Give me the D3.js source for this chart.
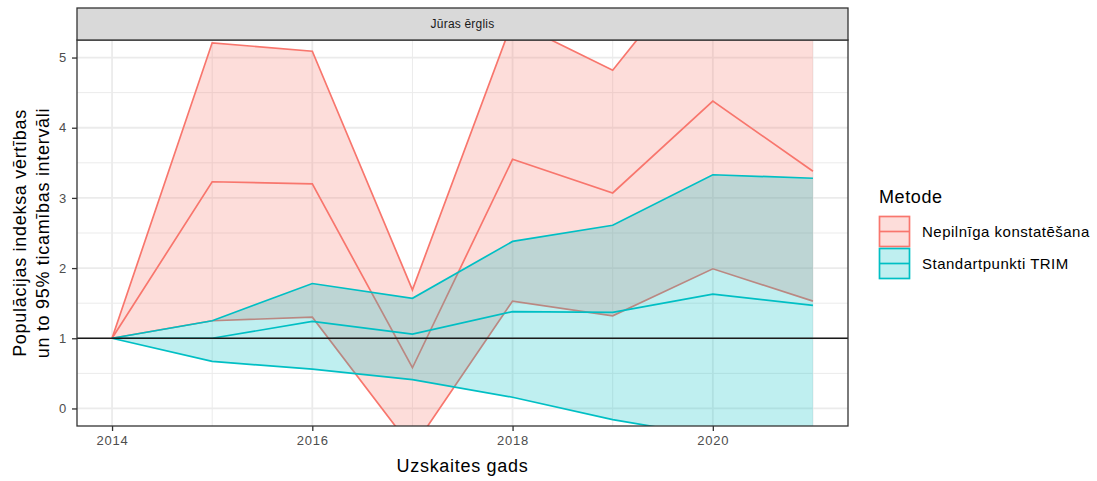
<!DOCTYPE html>
<html>
<head>
<meta charset="utf-8">
<script src="https://cdn.jsdelivr.net/npm/d3@7"></script>
<style>
  body { margin: 0; background: #fff; }
  svg text { font-family: "Liberation Sans", Arial, sans-serif; }
</style>
</head>
<body>
<div class="viz"></div>
<script>
// values
const years = [2014, 2015, 2016, 2017, 2018, 2019, 2020, 2021];

const nepMean  = [1, 3.23, 3.20, 0.58, 3.55, 3.07, 4.38, 3.38];
const nepLower = [1, 1.25, 1.30, -0.57, 1.53, 1.32, 1.99, 1.53];
const nepUpper = [1, 5.21, 5.09, 1.69, 5.52, 4.82, 6.60, 5.26];

const trimMean  = [1, 1.00, 1.24, 1.06, 1.38, 1.37, 1.63, 1.47];
const trimLower = [1, 0.67, 0.56, 0.41, 0.16, -0.16, -0.40, -0.55];
const trimUpper = [1, 1.25, 1.78, 1.57, 2.38, 2.61, 3.33, 3.28];

const methods = ["Nepilnīga konstatēšana", "Standartpunkti TRIM"];
const xTicks = [2014, 2016, 2018, 2020];
const xMinor = [2015, 2017, 2019, 2021];
const yTicks = [0, 1, 2, 3, 4, 5];
const yMinor = [0.5, 1.5, 2.5, 3.5, 4.5];
const refLine = 1;

const colScale = d3.scaleOrdinal()
    .domain(methods)
    .range(["#F8766D", "#00BFC4"]);

const series = [
    { method: methods[0], mean: nepMean, lower: nepLower, upper: nepUpper },
    { method: methods[1], mean: trimMean, lower: trimLower, upper: trimUpper }
];

const W = 1097, H = 481;
const panel = { left: 77, right: 848, top: 40, bottom: 426 };

const svg = d3.select('.viz')
    .append('svg')
    .attr('width', W)
    .attr('height', H);

const x = d3.scaleLinear()
    .domain([2013.65, 2021.35])
    .range([panel.left, panel.right]);

const y = d3.scaleLinear()
    .domain([-0.25, 5.25])
    .range([panel.bottom, panel.top]);

/* GRID */
const grid = svg.append("g");
grid.selectAll(null).data(yMinor).enter().append("line")
    .attr("x1", panel.left).attr("x2", panel.right)
    .attr("y1", d => y(d)).attr("y2", d => y(d))
    .attr("stroke", "#EBEBEB").attr("stroke-width", 1);
grid.selectAll(null).data(xMinor).enter().append("line")
    .attr("y1", panel.top).attr("y2", panel.bottom)
    .attr("x1", d => x(d)).attr("x2", d => x(d))
    .attr("stroke", "#EBEBEB").attr("stroke-width", 1);
grid.selectAll(null).data(yTicks).enter().append("line")
    .attr("x1", panel.left).attr("x2", panel.right)
    .attr("y1", d => y(d)).attr("y2", d => y(d))
    .attr("stroke", "#EBEBEB").attr("stroke-width", 1.8);
grid.selectAll(null).data(xTicks).enter().append("line")
    .attr("y1", panel.top).attr("y2", panel.bottom)
    .attr("x1", d => x(d)).attr("x2", d => x(d))
    .attr("stroke", "#EBEBEB").attr("stroke-width", 1.8);

/* CLIP */
svg.append("clipPath").attr("id", "clip")
    .append("rect")
    .attr("x", panel.left).attr("y", panel.top)
    .attr("width", panel.right - panel.left)
    .attr("height", panel.bottom - panel.top);

const plot = svg.append("g").attr("clip-path", "url(#clip)");

const area = d3.area()
    .x((d, i) => x(years[i]))
    .y0(d => y(d[0]))
    .y1(d => y(d[1]));

const line = d3.line()
    .x((d, i) => x(years[i]))
    .y(d => y(d));

series.forEach(function(s) {
    const band = s.lower.map((v, i) => [v, s.upper[i]]);
    plot.append("path")
        .attr("d", area(band))
        .attr("fill", colScale(s.method))
        .attr("fill-opacity", 0.25);
    [s.upper, s.lower, s.mean].forEach(function(arr) {
        plot.append("path")
            .attr("d", line(arr))
            .attr("fill", "none")
            .attr("stroke", colScale(s.method))
            .attr("stroke-width", 1.7);
    });
});

// reference line
plot.append("line")
    .attr("x1", panel.left).attr("x2", panel.right)
    .attr("y1", y(refLine)).attr("y2", y(refLine))
    .attr("stroke", "#1A1A1A").attr("stroke-width", 1.7);

/* PANEL BORDER + STRIP */
svg.append("rect")
    .attr("x", panel.left).attr("y", panel.top)
    .attr("width", panel.right - panel.left)
    .attr("height", panel.bottom - panel.top)
    .attr("fill", "none").attr("stroke", "#333333").attr("stroke-width", 1.3);

svg.append("rect")
    .attr("x", panel.left).attr("y", 8)
    .attr("width", panel.right - panel.left)
    .attr("height", panel.top - 8)
    .attr("fill", "#D9D9D9").attr("stroke", "#333333").attr("stroke-width", 1.3);

svg.append("text")
    .attr("x", (panel.left + panel.right) / 2)
    .attr("y", 24)
    .attr("dy", "0.35em")
    .attr("text-anchor", "middle")
    .style("font-size", "12px")
    .style("letter-spacing", "0.2px")
    .style("fill", "#1A1A1A")
    .text("Jūras ērglis");

/* AXES */
const yAxis = svg.append("g")
    .attr("transform", `translate(${panel.left},0)`)
    .call(d3.axisLeft(y).tickValues(yTicks).tickFormat(d3.format("d")).tickSize(5).tickPadding(5));
const xAxis = svg.append("g")
    .attr("transform", `translate(0,${panel.bottom})`)
    .call(d3.axisBottom(x).tickValues(xTicks).tickFormat(d3.format("d")).tickSize(5).tickPadding(5));

[yAxis, xAxis].forEach(function(a) {
    a.select(".domain").remove();
    a.selectAll(".tick line").attr("stroke", "#333333").attr("stroke-width", 1.3);
    a.selectAll(".tick text")
        .style("font-size", "13px")
        .style("letter-spacing", "0.8px")
        .style("font-family", '"Liberation Sans", Arial, sans-serif')
        .attr("fill", "#4D4D4D");
});

svg.append("text")
    .attr("x", (panel.left + panel.right) / 2)
    .attr("y", 472)
    .attr("text-anchor", "middle")
    .style("font-size", "18px")
    .style("letter-spacing", "0.7px")
    .style("fill", "#000")
    .text("Uzskaites gads");

const yTitle = svg.append("text")
    .attr("transform", `translate(26,${(panel.top + panel.bottom) / 2}) rotate(-90)`)
    .attr("text-anchor", "middle")
    .style("font-size", "18px")
    .style("letter-spacing", "0.7px")
    .style("fill", "#000");
yTitle.append("tspan").attr("x", 0).attr("y", 0).text("Populācijas indeksa vērtības");
yTitle.append("tspan").attr("x", 0).attr("y", 23).text("un to 95% ticamības intervāli");

/* LEGEND */
const leg = svg.append("g");
leg.append("text")
    .attr("x", 879).attr("y", 203)
    .style("font-size", "18px")
    .style("letter-spacing", "0.6px")
    .style("fill", "#000")
    .text("Metode");

const keySize = 30;
const legItems = leg.selectAll(null)
    .data(methods)
    .enter()
    .append("g")
    .attr("transform", (d, i) => `translate(879.5,${216.5 + i * 32})`);

legItems.append("rect")
    .attr("width", keySize).attr("height", keySize)
    .attr("fill", d => colScale(d)).attr("fill-opacity", 0.25)
    .attr("stroke", d => colScale(d)).attr("stroke-width", 1.7);
legItems.append("line")
    .attr("x1", 0).attr("x2", keySize)
    .attr("y1", keySize / 2).attr("y2", keySize / 2)
    .attr("stroke", d => colScale(d)).attr("stroke-width", 1.7);
legItems.append("text")
    .attr("x", 42.5)
    .attr("y", keySize / 2)
    .attr("dy", "0.35em")
    .style("font-size", "15px")
    .style("letter-spacing", "0.5px")
    .style("fill", "#000")
    .text(d => d);
</script>
</body>
</html>
